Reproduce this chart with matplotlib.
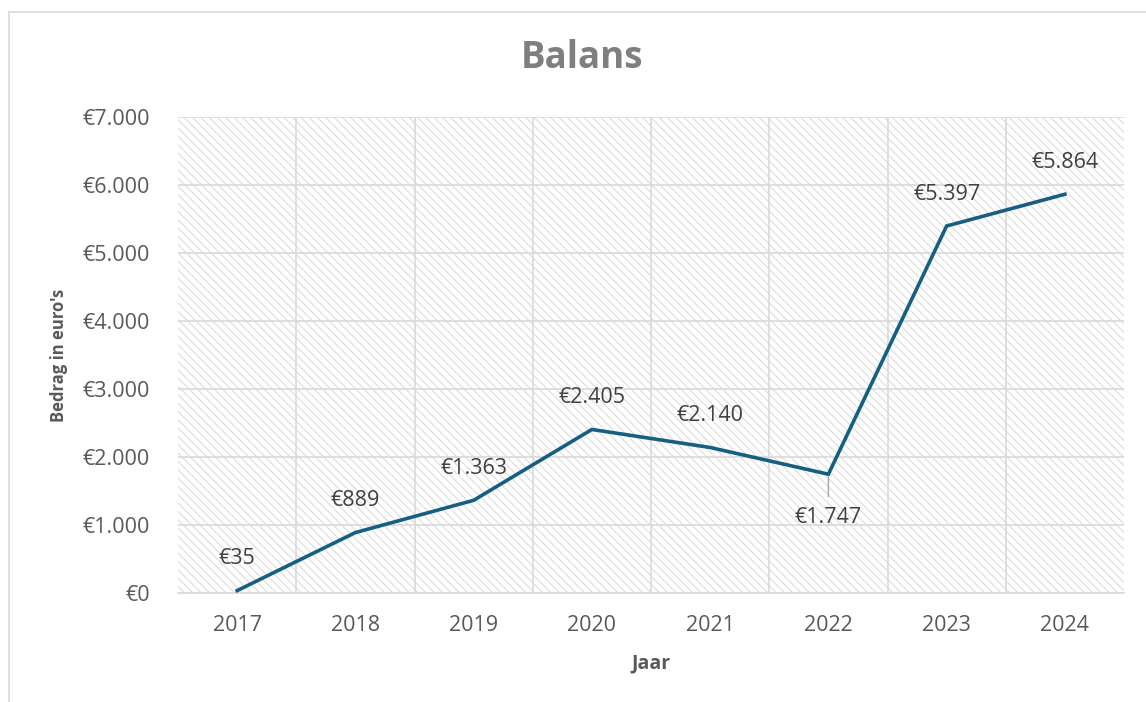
import matplotlib
matplotlib.use("Agg")
import matplotlib.pyplot as plt
import matplotlib.ticker as mticker
from matplotlib.patches import Rectangle

YEARS = ["2017", "2018", "2019", "2020", "2021", "2022", "2023", "2024"]
BALANS = [35, 889, 1363, 2405, 2140, 1747, 5397, 5864]
LABEL_BELOW = ["2022"]

LINE_COLOR = "#156082"
TEXT_COLOR = "#595959"
GRID_COLOR = "#d9d9d9"

plt.rcParams["font.family"] = ["Open Sans", "DejaVu Sans"]
plt.rcParams["hatch.color"] = "#dcdcdc"
plt.rcParams["hatch.linewidth"] = 0.8


def euro(v):
    return "€" + f"{int(round(v)):,}".replace(",", ".")


def main():
    fig = plt.figure(figsize=(11.46, 7.02), dpi=100)
    # chart frame, cut off on the right and bottom like the screenshot
    fig.patches.append(Rectangle((9 / 1146, -0.2), 1.2, 1.2 - 12 / 702,
                                 transform=fig.transFigure, fill=False,
                                 edgecolor=GRID_COLOR, linewidth=1.2))
    ax = fig.add_axes([178 / 1146, 1 - 593 / 702, 946 / 1146, 476 / 702])

    ax.patch.set_facecolor("white")
    ax.patch.set_hatch("\\\\\\\\")
    ax.patch.set_edgecolor("#dcdcdc")

    x = list(range(len(YEARS)))
    ax.plot(x, BALANS, color=LINE_COLOR, linewidth=2.6, zorder=3,
            solid_joinstyle="miter")

    for xi, yr, v in zip(x, YEARS, BALANS):
        if yr in LABEL_BELOW:
            ax.annotate("", xy=(xi, v), xytext=(0, -16),
                        textcoords="offset points",
                        arrowprops=dict(arrowstyle="-", color="#a6a6a6",
                                        lw=1.0, shrinkA=0, shrinkB=2))
            ax.annotate(euro(v), (xi, v), xytext=(0, -31),
                        textcoords="offset points", ha="center", va="center",
                        fontsize=15.5, color="#404040")
        else:
            ax.annotate(euro(v), (xi, v), xytext=(0, 23),
                        textcoords="offset points", ha="center", va="center",
                        fontsize=15.5, color="#404040")

    ax.set_xlim(-0.5, len(YEARS) - 0.5)
    ax.set_ylim(0, 7000)
    ax.set_xticks(x)
    ax.set_xticklabels(YEARS)
    ax.set_xticks([i + 0.5 for i in x[:-1]], minor=True)
    ax.yaxis.set_major_locator(mticker.MultipleLocator(1000))
    ax.yaxis.set_major_formatter(mticker.FuncFormatter(lambda v, _: euro(v)))

    ax.grid(axis="y", which="major", color=GRID_COLOR, linewidth=1.2, zorder=1)
    ax.grid(axis="x", which="minor", color=GRID_COLOR, linewidth=1.2, zorder=1)
    ax.set_axisbelow(True)

    ax.tick_params(axis="both", which="both", length=0, labelsize=15.5,
                   labelcolor=TEXT_COLOR)
    ax.tick_params(axis="y", pad=20)
    ax.tick_params(axis="x", pad=16)
    for side in ["top", "right", "left"]:
        ax.spines[side].set_visible(False)
    ax.spines["bottom"].set_color(GRID_COLOR)
    ax.spines["bottom"].set_linewidth(1.2)

    ax.set_xlabel("Jaar", fontsize=14, fontweight="bold", color=TEXT_COLOR)
    ax.set_ylabel("Bedrag in euro's", fontsize=12, fontweight="bold",
                  color=TEXT_COLOR)
    ax.xaxis.set_label_coords(0.5, -0.128)
    ax.yaxis.set_label_coords(-0.116, 0.5)
    fig.text(582 / 1146, 1 - 58 / 702, "Balans", ha="center", va="center",
             fontsize=26.5, fontweight="bold", color="#7f7f7f")

    fig.savefig("out.png", dpi=100)
    plt.close(fig)


if __name__ == "__main__":
    main()
